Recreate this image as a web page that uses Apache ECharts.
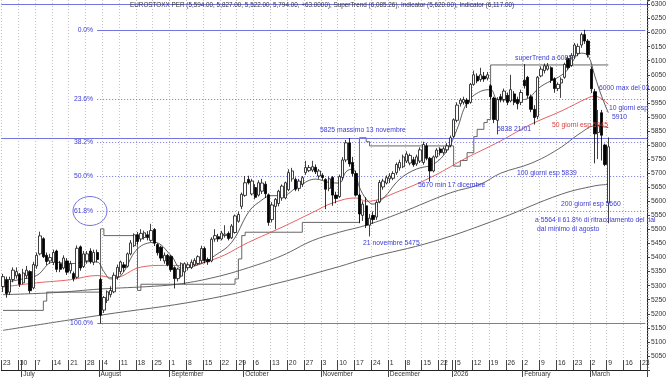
<!DOCTYPE html>
<html>
<head>
<meta charset="utf-8">
<script src="https://cdn.jsdelivr.net/npm/echarts@6.0.0/dist/echarts.min.js"></script>
<style>
  html, body { margin: 0; padding: 0; background: #fff; }
  #chart { width: 672px; height: 378px; }
</style>
</head>
<body>
<div id="chart"></div>
<script>
// trading days (Mon-Fri, exchange holidays removed), from 23 June 2025
const holidays = ['2025-12-24', '2025-12-25', '2025-12-26', '2025-12-31', '2026-01-01'];
const days = [];
for (let d = new Date(Date.UTC(2025, 5, 23)); days.length < 192; d.setUTCDate(d.getUTCDate() + 1)) {
    let wd = d.getUTCDay();
    let s = d.toISOString().slice(0, 10);
    if (wd === 0 || wd === 6 || holidays.indexOf(s) >= 0) continue;
    days.push(s);
}
const monthNames = ['2026', 'February', 'March', 'April', 'May', 'June', 'July', 'August', 'September', 'October', 'November', 'December'];

// daily candles [open, close, low, high], one per trading day from days[0]
const ohlc = [
    [5297,5332,5277,5342],[5322,5272,5257,5332],[5277,5322,5267,5332],[5322,5355,5312,5365],[5335,5350,5325,5365],
    [5340,5305,5295,5345],[5310,5345,5305,5360],[5335,5355,5325,5370],[5350,5282,5272,5355],[5292,5375,5287,5385],
    [5370,5408,5360,5418],[5413,5477,5408,5492],[5467,5403,5398,5472],[5408,5386,5373,5418],[5388,5400,5378,5413],
    [5383,5418,5373,5428],[5423,5358,5348,5428],[5378,5358,5348,5388],[5363,5398,5358,5408],[5388,5348,5338,5398],
    [5353,5378,5343,5388],[5343,5325,5315,5350],[5330,5433,5325,5443],[5438,5363,5353,5443],[5368,5413,5363,5423],
    [5388,5413,5378,5423],[5423,5386,5378,5433],[5383,5418,5373,5428],[5418,5393,5383,5428],[5322,5195,5165,5328],
    [5213,5258,5203,5263],[5248,5278,5238,5283],[5268,5283,5258,5298],[5278,5337,5273,5347],[5331,5365,5321,5375],
    [5350,5384,5340,5389],[5374,5364,5349,5384],[5369,5413,5364,5418],[5413,5452,5408,5462],[5442,5481,5437,5486],
    [5481,5457,5447,5491],[5466,5486,5456,5501],[5471,5488,5464,5496],[5481,5471,5461,5494],[5461,5496,5456,5520],
    [5500,5451,5441,5505],[5446,5417,5407,5451],[5437,5398,5388,5442],[5388,5408,5378,5418],[5408,5374,5369,5413],
    [5404,5357,5349,5409],[5364,5325,5290,5369],[5325,5359,5315,5364],[5334,5378,5329,5383],[5349,5378,5305,5383],
    [5364,5374,5354,5383],[5364,5383,5359,5393],[5374,5390,5369,5398],[5379,5403,5374,5408],[5389,5432,5379,5442],
    [5432,5389,5379,5439],[5393,5385,5374,5400],[5388,5465,5383,5472],[5466,5478,5456,5501],[5474,5466,5456,5484],
    [5466,5487,5461,5495],[5478,5483,5471,5515],[5486,5468,5461,5493],[5470,5512,5466,5519],[5489,5548,5485,5553],
    [5529,5553,5524,5563],[5582,5625,5572,5631],[5621,5666,5616,5690],[5678,5666,5660,5691],[5626,5672,5621,5680],
    [5649,5614,5607,5661],[5622,5666,5617,5675],[5636,5665,5626,5680],[5661,5627,5612,5671],[5623,5525,5513,5628],
    [5535,5587,5525,5597],[5582,5607,5501,5612],[5592,5636,5582,5641],[5612,5654,5602,5660],[5612,5666,5607,5670],
    [5641,5702,5636,5714],[5680,5708,5670,5719],[5678,5643,5636,5685],[5646,5672,5636,5680],[5661,5684,5651,5690],
    [5702,5720,5694,5744],[5709,5720,5704,5729],[5711,5723,5704,5744],[5721,5705,5697,5731],[5690,5708,5680,5715],
    [5692,5685,5675,5700],[5678,5643,5572,5682],[5646,5680,5636,5688],[5685,5622,5584,5690],[5622,5610,5593,5634],
    [5617,5688,5612,5695],[5685,5747,5675,5757],[5747,5808,5739,5818],[5808,5733,5723,5825],[5738,5699,5689,5758],
    [5699,5622,5617,5709],[5622,5555,5522,5627],[5550,5590,5530,5600],[5584,5515,5505,5614],[5515,5540,5475,5555],
    [5550,5535,5520,5564],[5544,5596,5534,5603],[5598,5667,5593,5676],[5651,5672,5641,5680],[5665,5684,5660,5692],
    [5680,5690,5665,5700],[5682,5699,5675,5707],[5702,5731,5694,5738],[5719,5738,5709,5748],[5723,5758,5718,5766],
    [5743,5768,5736,5778],[5736,5763,5728,5770],[5748,5730,5723,5758],[5733,5758,5726,5766],[5743,5783,5736,5792],
    [5738,5802,5730,5812],[5797,5753,5746,5807],[5753,5708,5670,5758],[5708,5758,5703,5763],[5758,5782,5753,5789],
    [5786,5773,5763,5792],[5773,5787,5766,5795],[5783,5797,5773,5807],[5799,5826,5792,5834],[5831,5890,5826,5895],
    [5888,5942,5881,5952],[5947,5960,5937,5967],[5952,5962,5944,5972],[5960,5947,5932,5967],[5952,6016,5947,6021],
    [6016,6050,6011,6065],[6045,6028,6020,6055],[6033,6050,6025,6075],[6045,6035,6025,6060],[6038,6050,6030,6060],
    [6011,5972,5962,6016],[5967,5891,5878,5972],[5888,5962,5838,5970],[5972,5962,5952,5982],[5962,5992,5952,6001],
    [5977,5952,5942,5987],[5957,5997,5952,6050],[5982,5952,5942,5992],[5962,5947,5927,5972],[5952,5987,5942,5997],
    [6031,6011,6001,6088],[6041,5977,5967,6046],[5972,5927,5917,5980],[5927,5898,5873,5942],[5902,6041,5892,6046],
    [6046,6070,6041,6080],[6065,6082,6055,6090],[6070,6082,6065,6092],[6075,6031,6021,6080],[6036,6001,5986,6041],
    [6001,6016,5992,6023],[6021,6034,5968,6041],[6041,6087,6036,6093],[6108,6076,6068,6116],[6083,6119,6078,6127],
    [6117,6156,6107,6163],[6126,6151,6116,6161],[6156,6193,6146,6200],[6193,6170,6160,6210],[6170,6121,6111,6177],
    [6070,6000,5985,6080],[5990,5840,5735,6000],[5845,5870,5750,5925],[5915,5835,5745,5925],[5800,5731,5725,5805],
    [5594,5794,5522,5827]
];

// indicator lines: [trading day index, value]
const ema10 = [[0,5310],[5,5322],[10,5336],[15,5384],[20,5378],[25,5385],[28,5384],[30,5350],[32,5324],[35,5335],
    [40,5431],[45,5454],[50,5407],[53,5363],[59,5378],[63,5407],[68,5454],[73,5561],[76,5596],[80,5620],[83,5620],
    [88,5655],[93,5679],[97,5667],[100,5665],[102,5705],[104,5715],[106,5650],[108,5608],[110,5590],[113,5610],
    [118,5679],[123,5715],[128,5732],[132,5780],[135,5856],[138,5950],[142,5991],[145,5997],[147,5962],[150,5960],
    [155,5962],[160,6009],[167,6057],[172,6127],[174,6118],[176,6045],[178,5974],[180,5915]];
const ema50 = [[0,5295],[10,5310],[20,5321],[28,5336],[33,5328],[41,5366],[48,5372],[53,5372],[63,5395],[73,5454],
    [83,5508],[92,5560],[98,5594],[105,5612],[108,5600],[118,5637],[128,5690],[138,5756],[142,5779],[148,5815],
    [157,5874],[166,5921],[174,5968],[176,5974],[180,5945]];
const ema100 = [[0,5268],[15,5275],[29,5288],[45,5298],[53,5307],[63,5330],[73,5364],[83,5407],[92,5460],[100,5490],
    [108,5515],[118,5558],[133,5630],[142,5661],[148,5700],[157,5735],[165,5785],[172,5845],[176,5868],[180,5862]];
const ema200 = [[0,5141],[29,5195],[59,5248],[82,5310],[100,5368],[108,5397],[128,5457],[148,5540],[166,5625],
    [176,5655],[180,5660]];
const superTrend = [[0,5212],[11,5212],[12,5245],[13,5277],[29,5502],[30,5478],[40,5283],[41,5305],[69,5324],
    [70,5395],[71,5478],[72,5490],[89,5525],[106,5826],[108,5812],[109,5797],[134,5725],[136,5745],[138,5773],
    [140,5830],[141,5856],[143,5880],[144,5891],[145,6085],[180,6085]];

// retracement of the August low -> February high
const fibStart = 28;
const fibLevels = [
    {name: '0.0%', value: 6210, type: 'solid'},
    {name: '23.6%', value: 5963, type: [1, 2]},
    {name: '38.2%', value: 5811, type: [1, 2]},
    {name: '50.0%', value: 5688, type: [1, 2]},
    {name: '61.8%', value: 5564, type: [1, 2]},
    {name: '100.0%', value: 5165, type: 'solid'}
];
const levelLines = [6300, 5825];

const FONT = '"Liberation Sans", Arial, sans-serif';
const BLUE = '#3b3bd4';
const LINE_BLUE = '#7474de';

function isMonday(v) { return new Date(v + 'T00:00:00Z').getUTCDay() === 1; }
function isMonthStart(i) { return i > 0 && days[i].slice(5, 7) !== days[i - 1].slice(5, 7); }

let markData = [];
levelLines.forEach(function (v) {
    markData.push({yAxis: v, lineStyle: {type: 'solid'}, label: {show: false}});
});
fibLevels.forEach(function (f) {
    markData.push([
        {coord: [fibStart, f.value], name: f.name, lineStyle: {type: f.type}},
        {coord: [days.length - 1, f.value]}
    ]);
});

function txt(x, y, text, color) {
    return {
        type: 'text', x: x, y: y, silent: true, z: 100,
        style: {text: text, fill: color || BLUE, font: '6.8px ' + FONT, verticalAlign: 'middle'}
    };
}

let chart = echarts.init(document.getElementById('chart'), null, {renderer: 'canvas'});
let option = {
    animation: false,
    backgroundColor: '#fff',
    grid: {left: 0, right: 25, top: 0, bottom: 6.4},
    xAxis: [
        {
            type: 'category', data: days, boundaryGap: true,
            axisLine: {show: true, lineStyle: {color: '#222', width: 1}},
            axisTick: {
                show: true, inside: true, length: 10, lineStyle: {color: '#444'},
                interval: function (i, v) { return isMonday(v) || isMonthStart(i); }
            },
            axisLabel: {
                inside: true, margin: 3, align: 'left', fontSize: 6.8, fontFamily: FONT, color: '#333',
                interval: function (i, v) { return isMonday(v) && v !== '2025-12-29'; },
                formatter: function (v) { return String(+v.slice(8, 10)); }
            },
            splitLine: {
                show: true, lineStyle: {color: '#c4c4c4', type: [1, 2], width: 1},
                interval: function (i, v) { return isMonday(v); }
            }
        },
        {
            type: 'category', data: days, boundaryGap: true, position: 'bottom',
            axisLine: {show: false},
            axisTick: {
                show: true, length: 7, lineStyle: {color: '#444'},
                interval: function (i) { return isMonthStart(i); }
            },
            axisLabel: {
                margin: 1, align: 'left', fontSize: 6.6, fontFamily: FONT, color: '#333',
                interval: function (i) { return isMonthStart(i); },
                formatter: function (v) { return monthNames[+v.slice(5, 7) - 1]; }
            },
            splitLine: {show: false}
        }
    ],
    yAxis: {
        type: 'value', position: 'right', min: 5000, max: 6316, interval: 50,
        axisLine: {show: true, lineStyle: {color: '#222'}},
        axisTick: {show: true, length: 3, lineStyle: {color: '#444'}},
        minorTick: {show: true, splitNumber: 5, length: 1.5, lineStyle: {color: '#777'}},
        axisLabel: {
            margin: 4, fontSize: 6.8, fontFamily: FONT, color: '#333',
            showMinLabel: false, showMaxLabel: false,
            formatter: function (v) { return String(v); }
        },
        splitLine: {show: false}
    },
    series: [
        {
            name: 'EUROSTOXX PER', type: 'candlestick', data: ohlc, barWidth: 2.8, z: 5,
            itemStyle: {color: '#fff', color0: '#000', borderColor: '#111', borderColor0: '#000', borderWidth: 0.8},
            markLine: {
                silent: true, symbol: ['none', 'none'], animation: false,
                lineStyle: {color: LINE_BLUE, width: 1},
                label: {show: true, position: 'start', distance: 4, formatter: '{b}', color: BLUE, fontSize: 6.8, fontFamily: FONT},
                data: markData
            }
        },
        {
            name: 'SuperTrend', type: 'line', data: superTrend, step: 'end', showSymbol: false, z: 3,
            lineStyle: {color: '#555', width: 0.9}
        },
        {
            name: '10 giorni', type: 'line', data: ema10, smooth: 0.4, showSymbol: false, z: 4,
            lineStyle: {color: '#333', width: 0.8}
        },
        {
            name: '50 giorni', type: 'line', data: ema50, smooth: 0.4, showSymbol: false, z: 3,
            lineStyle: {color: '#e25050', width: 0.9}
        },
        {
            name: '100 giorni', type: 'line', data: ema100, smooth: 0.4, showSymbol: false, z: 3,
            lineStyle: {color: '#555', width: 0.9}
        },
        {
            name: '200 giorni', type: 'line', data: ema200, smooth: 0.4, showSymbol: false, z: 3,
            lineStyle: {color: '#555', width: 0.9}
        }
    ],
    graphic: [
        {
            type: 'text', x: 130, y: 5.5, silent: true, z: 100,
            style: {
                text: 'EUROSTOXX PER (5,594.00, 5,827.00, 5,522.00, 5,794.00, +63.0000), SuperTrend (6,085.26), Indicator (5,620.00), Indicator (6,117.00)',
                fill: '#333', font: '6.35px ' + FONT, verticalAlign: 'middle'
            }
        },
        txt(515, 58, 'superTrend a 6085'),
        txt(599, 88, '6000 max del 03'),
        txt(609, 108, '10 giorni esp'),
        txt(612, 117, '5910'),
        txt(552, 125, '50 giorni esp 5945', '#e03a3a'),
        txt(497, 129, '5838 21/01'),
        txt(517, 173, '100 giorni esp 5839'),
        txt(561, 204, '200 giorni esp 5660'),
        txt(535, 220, 'a 5564 il 61.8% di ritracciamento del rial'),
        txt(537, 229, 'dal minimo di agosto'),
        txt(320, 130, '5825 massimo 13 novembre'),
        txt(418, 185, '5670 min 17 dicembre'),
        txt(363, 243, '21 novembre 5475'),
        {
            type: 'ellipse', silent: true, z: 100,
            shape: {cx: 90, cy: 211, rx: 17, ry: 14.5},
            style: {fill: 'none', stroke: LINE_BLUE, lineWidth: 1}
        }
    ]
};
chart.setOption(option);
</script>
</body>
</html>
